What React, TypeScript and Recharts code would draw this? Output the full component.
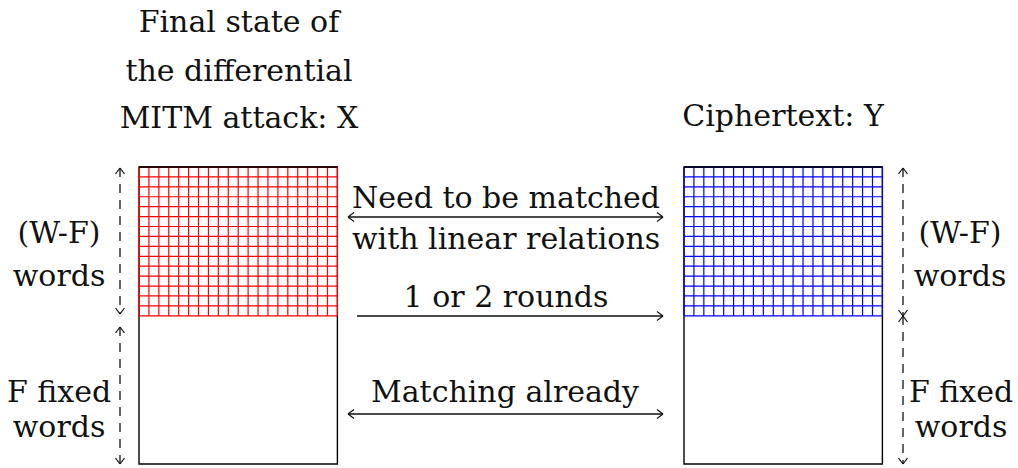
import { ComposedChart, XAxis, YAxis, ReferenceLine, ReferenceArea, Scatter } from "recharts";

// ---------------------------------------------------------------------------
// Diagram content
// ---------------------------------------------------------------------------
const leftTitle = ["Final state of", "the differential", "MITM attack: X"];
const rightTitle = ["Ciphertext: Y"];
const variableWords = ["(W-F)", "words"];
const fixedWords = ["F fixed", "words"];
const matchedLabel = ["Need to be matched", "with linear relations"];
const roundsLabel = ["1 or 2 rounds"];
const alreadyLabel = ["Matching already"];
const gridColumns = 20;
const gridRows = 15;

// ---------------------------------------------------------------------------
// Layout (pixel-like units, y grows downwards)
// ---------------------------------------------------------------------------
const W = 1018;
const H = 468;
const CELL = 9.92;
const TOP = 167;
const BOTTOM = 464;
const GRID_BOTTOM = TOP + gridRows * CELL;
const LEFT_X = 139;
const RIGHT_X = 684;
const FONT = '"DejaVu Serif"';
const FONT_SIZE = 30;
const INK = "#111";

type Seg = { x1: number; y1: number; x2: number; y2: number; color: string; width: number; dash?: string };

const segs: Seg[] = [];

function gridLines(x0: number, color: string) {
  for (let i = 0; i <= gridColumns; i++) {
    const x = x0 + i * CELL;
    segs.push({ x1: x, y1: TOP, x2: x, y2: GRID_BOTTOM, color, width: 1.2 });
  }
  for (let j = 0; j <= gridRows; j++) {
    const y = TOP + j * CELL;
    segs.push({ x1: x0, y1: y, x2: x0 + gridColumns * CELL, y2: y, color, width: 1.2 });
  }
}

function head(tx: number, ty: number, dx: number, dy: number) {
  const len = 6;
  const half = 4.5;
  const px = -dy;
  const py = dx;
  segs.push({ x1: tx, y1: ty, x2: tx - dx * len + px * half, y2: ty - dy * len + py * half, color: INK, width: 1.2 });
  segs.push({ x1: tx, y1: ty, x2: tx - dx * len - px * half, y2: ty - dy * len - py * half, color: INK, width: 1.2 });
}

function vArrow(x: number, y1: number, y2: number) {
  segs.push({ x1: x, y1, x2: x, y2, color: INK, width: 1.3, dash: "9 7" });
  head(x, y1, 0, -1);
  head(x, y2, 0, 1);
}

function hArrow(x1: number, x2: number, y: number, both: boolean) {
  segs.push({ x1, y1: y, x2, y2: y, color: INK, width: 1.3 });
  head(x2, y, 1, 0);
  if (both) head(x1, y, -1, 0);
}

gridLines(LEFT_X, "#ff0000");
gridLines(RIGHT_X, "#0000ff");

vArrow(120, 168, 314);
vArrow(120, 327, 464);
vArrow(903, 168, 316);
vArrow(903, 316, 464);

hArrow(348, 663, 217, true);
hArrow(357, 663, 316, false);
hArrow(348, 663, 414, true);

type Lbl = { x: number; y: number; text: string };

function stack(lines: string[], x: number, ys: number[]): Lbl[] {
  return lines.map((text, i) => ({ x, y: ys[i], text }));
}

const labels: Lbl[] = [
  ...stack(leftTitle, 239, [32, 81, 128]),
  ...stack(rightTitle, 783, [126]),
  ...stack(variableWords, 59, [243, 286]),
  ...stack(fixedWords, 59, [402, 437]),
  ...stack(variableWords, 960, [243, 286]),
  ...stack(fixedWords, 961, [402, 437]),
  ...stack(matchedLabel, 506, [208, 249]),
  ...stack(roundsLabel, 506, [307]),
  ...stack(alreadyLabel, 505, [402]),
];

const TextMark = (props: any) => {
  const { cx, cy, payload } = props;
  return (
    <text x={cx} y={cy} textAnchor="middle" style={{ fontFamily: FONT, fontSize: FONT_SIZE, fill: INK }}>
      {payload.text}
    </text>
  );
};

export default function App() {
  return (
    <div style={{ position: "fixed", left: 0, top: 0, background: "#fff" }}>
      <ComposedChart width={W} height={H} margin={{ top: 0, right: 0, bottom: 0, left: 0 }}>
        <XAxis type="number" dataKey="x" domain={[0, W]} hide allowDataOverflow />
        <YAxis type="number" dataKey="y" domain={[0, H]} reversed hide allowDataOverflow />
        <ReferenceArea x1={LEFT_X} x2={LEFT_X + gridColumns * CELL} y1={TOP} y2={BOTTOM} fill="none" stroke="#000" strokeWidth={1.4} ifOverflow="visible" />
        <ReferenceArea x1={RIGHT_X} x2={RIGHT_X + gridColumns * CELL} y1={TOP} y2={BOTTOM} fill="none" stroke="#000" strokeWidth={1.4} ifOverflow="visible" />
        {segs.map((s, i) => (
          <ReferenceLine
            key={i}
            segment={[{ x: s.x1, y: s.y1 }, { x: s.x2, y: s.y2 }]}
            stroke={s.color}
            strokeWidth={s.width}
            strokeDasharray={s.dash}
            ifOverflow="visible"
          />
        ))}
        <ReferenceLine segment={[{ x: LEFT_X, y: TOP }, { x: LEFT_X + gridColumns * CELL, y: TOP }]} stroke="#000" strokeWidth={1.4} ifOverflow="visible" />
        <ReferenceLine segment={[{ x: RIGHT_X, y: TOP }, { x: RIGHT_X + gridColumns * CELL, y: TOP }]} stroke="#000" strokeWidth={1.4} ifOverflow="visible" />
        <Scatter data={labels} shape={<TextMark />} isAnimationActive={false} />
      </ComposedChart>
    </div>
  );
}
